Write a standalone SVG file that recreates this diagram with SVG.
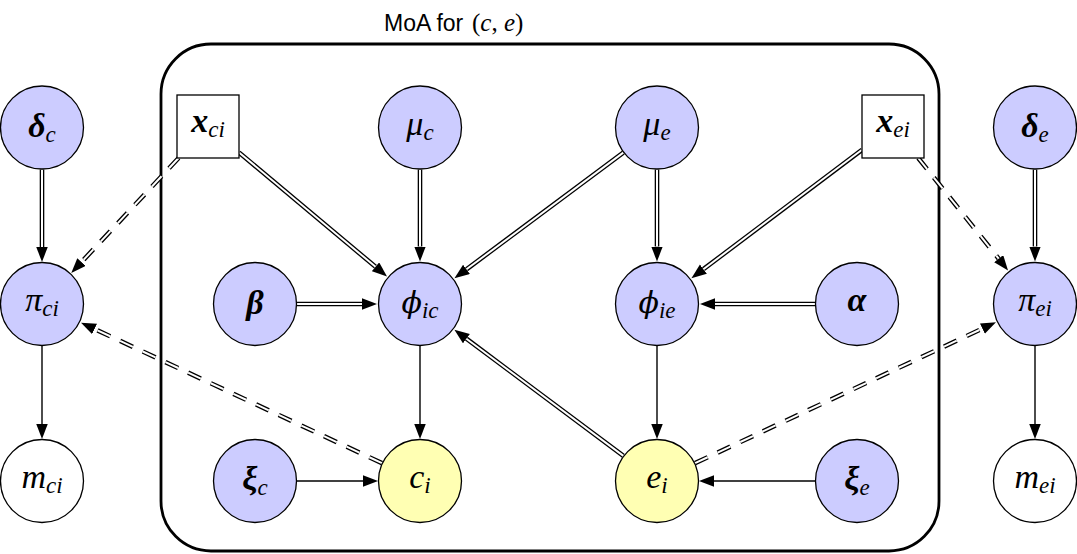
<svg xmlns="http://www.w3.org/2000/svg" width="1077" height="554" viewBox="0 0 1077 554">
<defs>
<style>
.nb{fill:#ccccff;stroke:#000;stroke-width:1.3}
.ny{fill:#ffffb3;stroke:#000;stroke-width:1.3}
.nw{fill:#fff;stroke:#000;stroke-width:1.3}
.m{font-family:"Liberation Serif","DejaVu Serif",serif;font-style:italic;font-size:34px;text-anchor:middle;fill:#000}
.bd{font-weight:bold}
.s{font-size:23px;font-weight:normal}
.ph{font-family:"DejaVu Serif",serif;font-size:30px}
.o{fill:none;stroke:#000;stroke-width:4.6}
.i{fill:none;stroke:#fff;stroke-width:2}
.d{stroke-dasharray:14 11}
.sg{fill:none;stroke:#000;stroke-width:1.4}
.plate{fill:none;stroke:#000;stroke-width:2.8}
.lbl{font-family:"Liberation Sans",sans-serif;font-size:23px;fill:#000}
.lm{font-family:"Liberation Serif",serif;font-size:25px;fill:#000}
</style>
<marker id="ah" markerUnits="userSpaceOnUse" markerWidth="16" markerHeight="12" refX="0" refY="5.75" orient="auto">
<path d="M0,0 L15,5.75 L0,11.5 z" fill="#000"/>
</marker>
</defs>

<g id="plate">
<rect class="plate" x="161" y="44" width="778" height="507" rx="50" ry="50"/>
<text class="lbl" x="384" y="31">MoA for</text>
<text class="lm" x="472" y="31">(<tspan font-style="italic">c</tspan>, <tspan font-style="italic">e</tspan>)</text>
</g>

<g id="connectors">
<!-- double arrows -->
<path class="o" marker-end="url(#ah)" d="M42,169.5 L42,247"/><path class="i" d="M42,169.5 L42,247"/>
<path class="o" marker-end="url(#ah)" d="M420,169.5 L420,246.5"/><path class="i" d="M420,169.5 L420,246.5"/>
<path class="o" marker-end="url(#ah)" d="M657,169.5 L657,246.5"/><path class="i" d="M657,169.5 L657,246.5"/>
<path class="o" marker-end="url(#ah)" d="M1035,169.5 L1035,246.5"/><path class="i" d="M1035,169.5 L1035,246.5"/>
<path class="o" marker-end="url(#ah)" d="M297,304 L362,304"/><path class="i" d="M297,304 L362,304"/>
<path class="o" marker-end="url(#ah)" d="M815,304 L715,304"/><path class="i" d="M815,304 L715,304"/>
<path class="o" marker-end="url(#ah)" d="M239,152.4 L375.5,266.8"/><path class="i" d="M239,152.4 L375.5,266.8"/>
<path class="o" marker-end="url(#ah)" d="M623.3,152.6 L466.5,269.3"/><path class="i" d="M623.3,152.6 L466.5,269.3"/>
<path class="o" marker-end="url(#ah)" d="M862,149.8 L703.4,269.2"/><path class="i" d="M862,149.8 L703.4,269.2"/>
<path class="o" marker-end="url(#ah)" d="M623.4,455.9 L466.4,338.7"/><path class="i" d="M623.4,455.9 L466.4,338.7"/>
<!-- dashed double arrows -->
<path class="o d" marker-end="url(#ah)" d="M178.6,158 L81.5,262.1"/><path class="i d" d="M178.6,158 L81.5,262.1"/>
<path class="o d" marker-end="url(#ah)" d="M382,463.2 L94.6,329"/><path class="i d" d="M382,463.2 L94.6,329"/>
<path class="o d" marker-end="url(#ah)" d="M918.2,158 L998.7,258.7"/><path class="i d" d="M918.2,158 L998.7,258.7"/>
<path class="o d" marker-end="url(#ah)" d="M695,463.2 L982.4,328.6"/><path class="i d" d="M695,463.2 L982.4,328.6"/>
<!-- single arrows -->
<path class="sg" marker-end="url(#ah)" d="M42,346 L42,424"/>
<path class="sg" marker-end="url(#ah)" d="M420,345.5 L420,424"/>
<path class="sg" marker-end="url(#ah)" d="M657,345.5 L657,424"/>
<path class="sg" marker-end="url(#ah)" d="M296.5,481 L363,481"/>
<path class="sg" marker-end="url(#ah)" d="M815.5,481 L714,481"/>
<path class="sg" marker-end="url(#ah)" d="M1035,346 L1035,424"/>
</g>

<g id="delta_c"><circle class="nb" cx="42" cy="127.5" r="41.5"/><text class="m bd" x="42" y="137">δ<tspan class="s" dy="5">c</tspan></text></g>
<g id="pi_ci"><circle class="nb" cx="42" cy="304" r="41.5"/><text class="m" x="42" y="311">π<tspan class="s" dy="5">ci</tspan></text></g>
<g id="m_ci"><circle class="nw" cx="42" cy="481" r="41.5"/><text class="m" x="42" y="488">m<tspan class="s" dy="5">ci</tspan></text></g>

<g id="x_ci"><rect class="nw" x="177" y="95" width="62" height="63"/><text class="m bd" x="208" y="132">x<tspan class="s" dy="5">ci</tspan></text></g>
<g id="beta"><circle class="nb" cx="255" cy="304" r="41.5"/><text class="m bd" x="255" y="314">β</text></g>
<g id="xi_c"><circle class="nb" cx="255" cy="481" r="41.5"/><text class="m bd" x="255" y="490">ξ<tspan class="s" dy="5">c</tspan></text></g>

<g id="mu_c"><circle class="nb" cx="420" cy="127.5" r="41.5"/><text class="m" x="420" y="135">μ<tspan class="s" dy="5">c</tspan></text></g>
<g id="phi_ic"><circle class="nb" cx="420" cy="304" r="41.5"/><text class="m" x="420" y="313"><tspan class="ph">ϕ</tspan><tspan class="s" dy="5">ic</tspan></text></g>
<g id="c_i"><circle class="ny" cx="420" cy="481" r="41.5"/><text class="m" x="420" y="488">c<tspan class="s" dy="5">i</tspan></text></g>

<g id="mu_e"><circle class="nb" cx="657" cy="127.5" r="41.5"/><text class="m" x="657" y="135">μ<tspan class="s" dy="5">e</tspan></text></g>
<g id="phi_ie"><circle class="nb" cx="657" cy="304" r="41.5"/><text class="m" x="657" y="313"><tspan class="ph">ϕ</tspan><tspan class="s" dy="5">ie</tspan></text></g>
<g id="e_i"><circle class="ny" cx="657" cy="481" r="41.5"/><text class="m" x="657" y="488">e<tspan class="s" dy="5">i</tspan></text></g>

<g id="x_ei"><rect class="nw" x="862" y="95" width="62" height="63"/><text class="m bd" x="893" y="132">x<tspan class="s" dy="5">ei</tspan></text></g>
<g id="alpha"><circle class="nb" cx="857" cy="304" r="41.5"/><text class="m bd" x="857" y="311">α</text></g>
<g id="xi_e"><circle class="nb" cx="857" cy="481" r="41.5"/><text class="m bd" x="857" y="490">ξ<tspan class="s" dy="5">e</tspan></text></g>

<g id="delta_e"><circle class="nb" cx="1035" cy="127.5" r="41.5"/><text class="m bd" x="1035" y="137">δ<tspan class="s" dy="5">e</tspan></text></g>
<g id="pi_ei"><circle class="nb" cx="1035" cy="304" r="41.5"/><text class="m" x="1035" y="311">π<tspan class="s" dy="5">ei</tspan></text></g>
<g id="m_ei"><circle class="nw" cx="1035" cy="481" r="41.5"/><text class="m" x="1035" y="488">m<tspan class="s" dy="5">ei</tspan></text></g>
</svg>
